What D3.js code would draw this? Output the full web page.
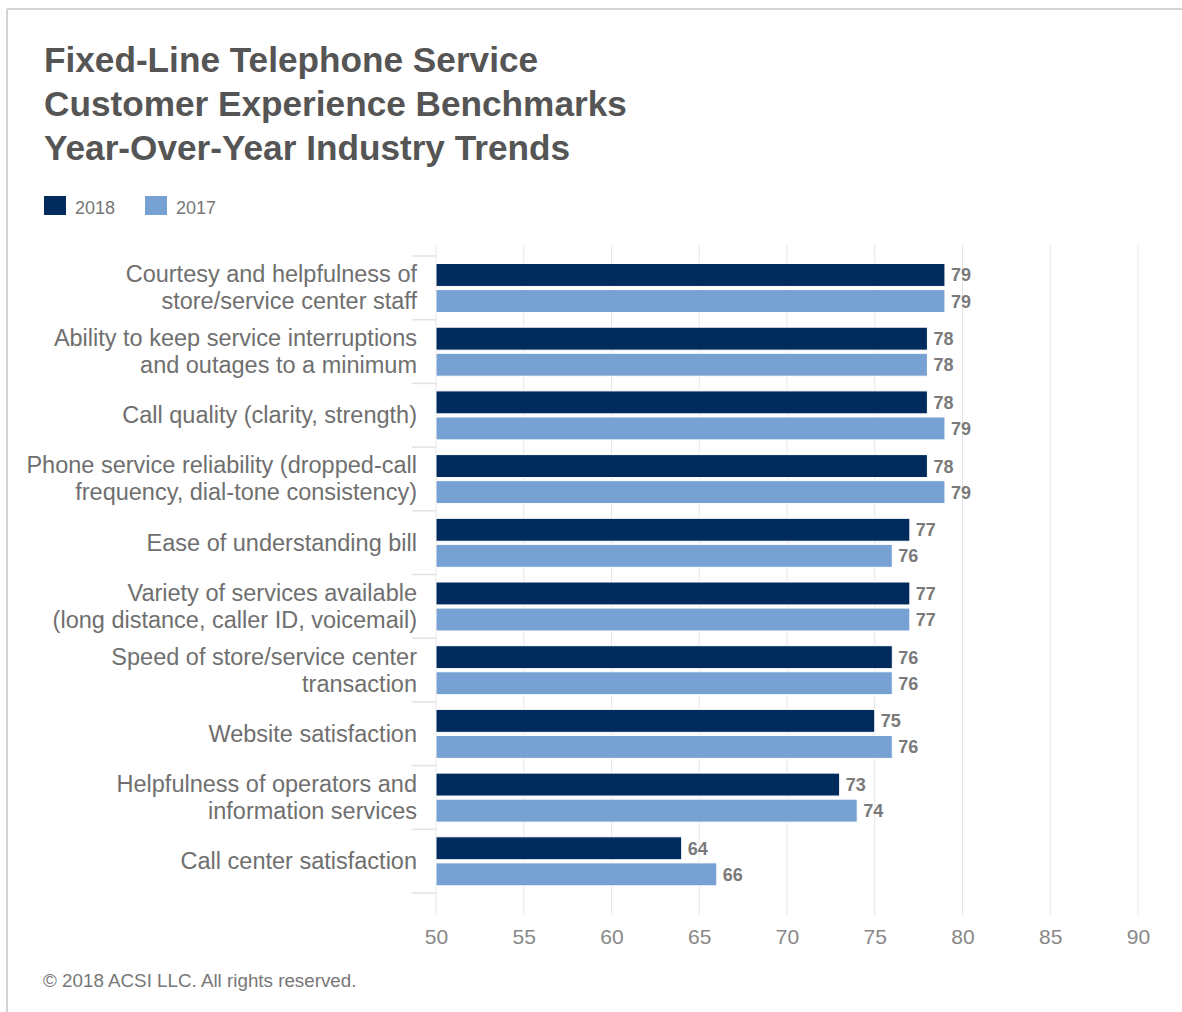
<!DOCTYPE html>
<html>
<head>
<meta charset="utf-8">
<script src="https://cdn.jsdelivr.net/npm/d3@7"></script>
<style>
  html, body { margin: 0; padding: 0; background: #fff; }
  svg { display: block; font-family: "Liberation Sans", Arial, Helvetica, sans-serif; }
</style>
</head>
<body>
<svg id="chart" width="1182" height="1012"></svg>
<script>
// Benchmark attributes (line breaks mark wrapped labels)
const categories = [
  "Courtesy and helpfulness of\nstore/service center staff",
  "Ability to keep service interruptions\nand outages to a minimum",
  "Call quality (clarity, strength)",
  "Phone service reliability (dropped-call\nfrequency, dial-tone consistency)",
  "Ease of understanding bill",
  "Variety of services available\n(long distance, caller ID, voicemail)",
  "Speed of store/service center\ntransaction",
  "Website satisfaction",
  "Helpfulness of operators and\ninformation services",
  "Call center satisfaction"
];
const series = ["2018", "2017"];
const values2018 = [79, 78, 78, 78, 77, 77, 76, 75, 73, 64];
const values2017 = [79, 78, 79, 79, 76, 77, 76, 76, 74, 66];
const xTicks = [50, 55, 60, 65, 70, 75, 80, 85, 90];
const titleLines = [
  "Fixed-Line Telephone Service",
  "Customer Experience Benchmarks",
  "Year-Over-Year Industry Trends"
];
const copyright = "© 2018 ACSI LLC. All rights reserved.";

const colors = { "2018": "#002b5c", "2017": "#77a1d3" };

const svg = d3.select("#chart");

// Frame lines along the top and left edge
svg.append("line").attr("x1", 7).attr("x2", 1182).attr("y1", 9).attr("y2", 9)
  .attr("stroke", "#d4d4d4").attr("stroke-width", 2);
svg.append("line").attr("x1", 7).attr("x2", 7).attr("y1", 9).attr("y2", 1012)
  .attr("stroke", "#d4d4d4").attr("stroke-width", 2);

// Title
svg.append("g").selectAll("text").data(titleLines).join("text")
  .attr("x", 44).attr("y", (d, i) => 72 + i * 44)
  .attr("font-size", 35.2).attr("font-weight", "bold").attr("fill", "#555555")
  .text(d => d);

// Legend
const legend = svg.append("g").attr("transform", "translate(44,196)");
const legendX = [0, 101];
series.forEach((s, i) => {
  const g = legend.append("g").attr("transform", `translate(${legendX[i]},0)`);
  g.append("rect").attr("width", 22).attr("height", 19).attr("fill", colors[s]);
  g.append("text").attr("x", 31).attr("y", 18).attr("font-size", 18)
    .attr("fill", "#777").text(s);
});

// Scales
const x = d3.scaleLinear().domain([50, 90]).range([436, 1138]);
const y = d3.scaleBand().domain(categories).range([256, 893]).padding(0);
const ySub = d3.scaleBand().domain(series).range([7.5, 56.5]).paddingInner(0.12);

// Vertical gridlines
svg.append("g").selectAll("line").data(xTicks).join("line")
  .attr("x1", d => x(d)).attr("x2", d => x(d))
  .attr("y1", 245).attr("y2", 915)
  .attr("stroke", "#e6e6e6").attr("stroke-width", 1);

// X axis labels
const xAxis = d3.axisBottom(x).tickValues(xTicks).tickSize(0).tickPadding(0);
const gx = svg.append("g").attr("transform", "translate(0,929)").call(xAxis);
gx.select(".domain").remove();
gx.selectAll("text").attr("font-size", 21).attr("fill", "#888")
  .attr("font-family", "Liberation Sans, Arial, sans-serif");

// Category ticks on the left axis (band boundaries)
const bounds = categories.map(c => y(c)).concat([y.range()[1]]);
svg.append("g").selectAll("line").data(bounds).join("line")
  .attr("x1", 412).attr("x2", 436)
  .attr("y1", d => d).attr("y2", d => d)
  .attr("stroke", "#e2e2e2").attr("stroke-width", 1.5);

// Category labels
const labelG = svg.append("g").selectAll("text").data(categories).join("text")
  .attr("text-anchor", "end").attr("font-size", 23.5).attr("fill", "#6f6f6f");
labelG.each(function(c) {
  const lines = c.split("\n");
  const cy = y(c) + y.bandwidth() / 2;
  const lh = 27;
  const t = d3.select(this);
  lines.forEach((ln, i) => {
    t.append("tspan").attr("x", 417)
      .attr("y", cy + (i - (lines.length - 1) / 2) * lh + 8)
      .text(ln);
  });
});

// Bars
const rows = categories.map((c, i) => ({ c, vals: [
  { s: "2018", v: values2018[i] },
  { s: "2017", v: values2017[i] }
]}));

const grp = svg.append("g").selectAll("g").data(rows).join("g")
  .attr("transform", d => `translate(0,${y(d.c)})`);

grp.selectAll("rect").data(d => d.vals).join("rect")
  .attr("x", x(50))
  .attr("y", d => ySub(d.s))
  .attr("width", d => x(d.v) - x(50))
  .attr("height", ySub.bandwidth())
  .attr("fill", d => colors[d.s])
  .attr("stroke", "#ffffff").attr("stroke-width", 1);

grp.selectAll("text").data(d => d.vals).join("text")
  .attr("x", d => x(d.v) + 6)
  .attr("y", d => ySub(d.s) + ySub.bandwidth() / 2)
  .attr("dy", "0.36em")
  .attr("font-size", 18).attr("font-weight", "bold").attr("fill", "#7a7a7a")
  .text(d => d.v);

// Footer
svg.append("text").attr("x", 43).attr("y", 987)
  .attr("font-size", 18.8).attr("fill", "#777").text(copyright);
</script>
</body>
</html>
